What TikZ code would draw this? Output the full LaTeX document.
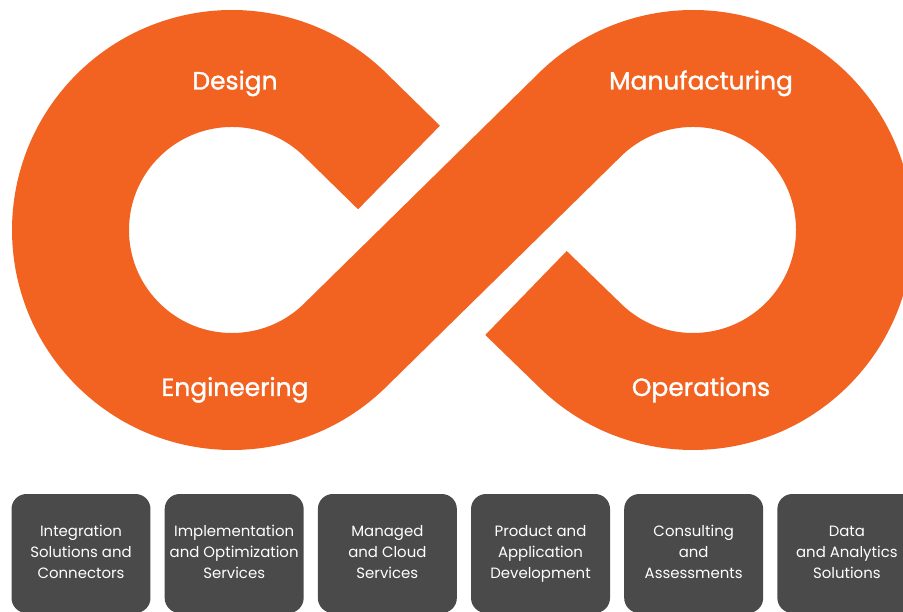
\documentclass[tikz,border=0pt]{standalone}
\usepackage{fontspec}
\setmainfont{Poppins}
\newfontfamily\stagefont[FakeBold=1.2]{Poppins}
\usetikzlibrary{positioning}
\definecolor{loopcolor}{HTML}{F26322}
\definecolor{boxgray}{HTML}{4A4A4A}

\begin{document}
\begin{tikzpicture}[
    x=0.02cm, y=0.02cm,
    node distance=0.27cm,
    stage/.style={text=white,anchor=base,font=\stagefont\fontsize{14.2}{16}\selectfont},
    servicebox/.style={fill=boxgray,text=white,rounded corners=0.3cm,minimum width=2.78cm,minimum height=2.38cm,inner sep=0pt,align=center,font=\fontsize{8.5}{12}\selectfont}
]
\useasboundingbox (0,0) rectangle (903,612);
\clip (0,0) rectangle (903,612);

% infinity band
\draw[loopcolor,line width=2.34cm] (399,444.5) -- (346.2,496.2)
    arc[start angle=45,end angle=315,radius=161.5] -- (578.8,496.2)
    arc[start angle=135,end angle=-135,radius=161.5] -- (526,319);

% stage labels
\node[stage] (design) at (235,522.5) {Design};
\node[stage] (manufacturing) at (701,522.5) {Manufacturing};
\node[stage] (engineering) at (235,216) {Engineering};
\node[stage] (operations) at (701,216) {Operations};

% service boxes
\node[servicebox] (integration) at (81,58.5) {\strut Integration\\Solutions and\\Connectors\strut};
\node[servicebox,right=of integration] (implementation) {\strut Implementation\\and Optimization\\Services\strut};
\node[servicebox,right=of implementation] (managed) {\strut Managed\\and Cloud\\Services\strut};
\node[servicebox,right=of managed] (product) {\strut Product and\\Application\\Development\strut};
\node[servicebox,right=of product] (consulting) {\strut Consulting\\and\\Assessments\strut};
\node[servicebox,right=of consulting] (analytics) {\strut Data\\and Analytics\\Solutions\strut};
\end{tikzpicture}
\end{document}
